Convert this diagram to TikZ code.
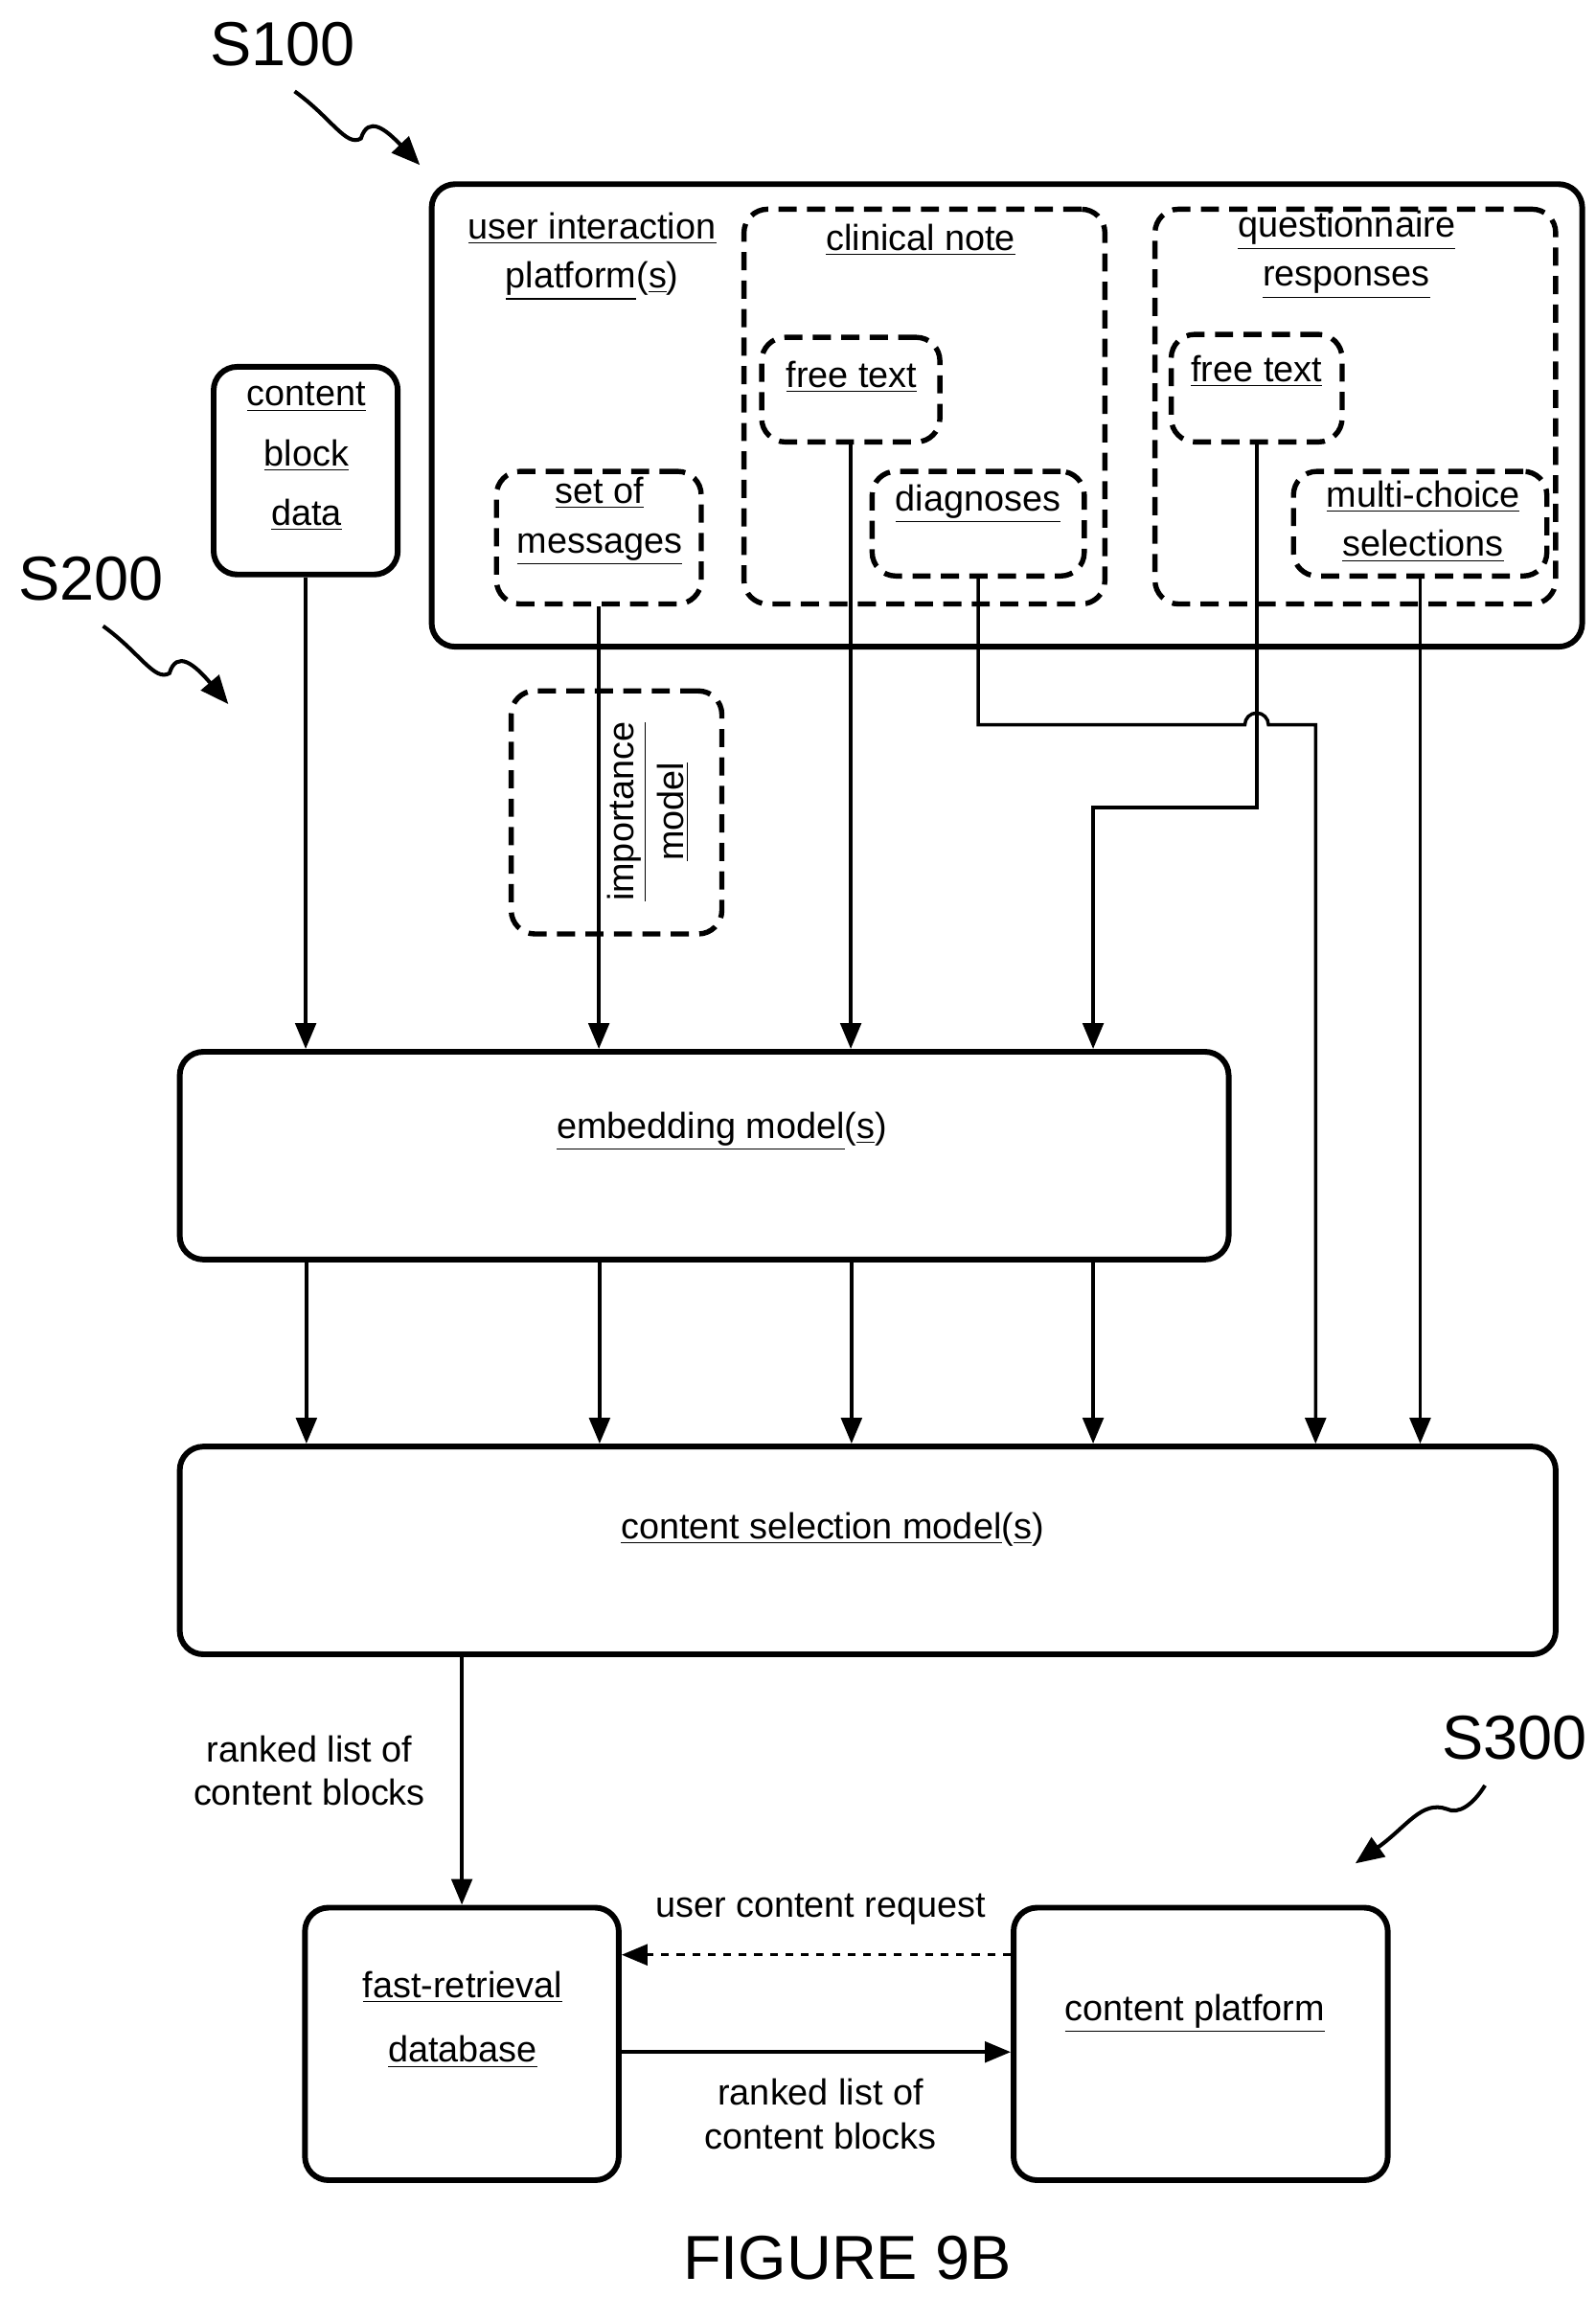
\documentclass[tikz,border=0pt]{standalone}
\usepackage{fontspec}
\setmainfont{Liberation Sans}
\usetikzlibrary{arrows.meta}
\newcommand\ul[1]{\underline{#1}}
\begin{document}
\begin{tikzpicture}[x=0.02cm,y=-0.02cm,
  box/.style={draw,line width=2.2pt,rounded corners=0.32cm,inner sep=0pt},
  dbox/.style={draw,line width=2pt,rounded corners=0.32cm,inner sep=0pt,dash pattern=on 7pt off 4pt},
  txt/.style={inner sep=0pt,font=\fontsize{14}{17}\selectfont,align=center},
  big/.style={inner sep=0pt,font=\fontsize{24}{28}\selectfont},
  arr/.style={line width=1.3pt,-{Triangle[length=10pt,width=8pt]}},
  sq/.style={line width=1.5pt,-{Triangle[length=11pt,width=9pt]}}]
\useasboundingbox (0,0) rectangle (1083,1560);
% boxes
\node[box,minimum width={781*0.02cm},minimum height={314*0.02cm}] (outer) at (683.5,282) {};
\node[dbox,minimum width={245*0.02cm},minimum height={268*0.02cm}] (clin) at (627.5,276) {};
\node[dbox,minimum width={121*0.02cm},minimum height={71*0.02cm}] (ft1) at (577.5,264.5) {};
\node[dbox,minimum width={144*0.02cm},minimum height={71*0.02cm}] (diag) at (664,355.5) {};
\node[dbox,minimum width={139*0.02cm},minimum height={90*0.02cm}] (msgs) at (406.5,365) {};
\node[dbox,minimum width={272*0.02cm},minimum height={268*0.02cm}] (quest) at (920,276) {};
\node[dbox,minimum width={116*0.02cm},minimum height={73*0.02cm}] (ft2) at (853,263.5) {};
\node[dbox,minimum width={172*0.02cm},minimum height={71*0.02cm}] (multi) at (964,355.5) {};
\node[box,minimum width={125*0.02cm},minimum height={141*0.02cm}] (cbd) at (207.5,319.5) {};
\node[dbox,minimum width={143*0.02cm},minimum height={165*0.02cm}] (imp) at (418.5,551.5) {};
\node[box,minimum width={712*0.02cm},minimum height={141*0.02cm}] (emb) at (478,784.5) {};
\node[box,minimum width={934*0.02cm},minimum height={141*0.02cm}] (csel) at (589,1052.5) {};
\node[box,minimum width={213*0.02cm},minimum height={185*0.02cm}] (frdb) at (313.5,1387.5) {};
\node[box,minimum width={254*0.02cm},minimum height={185*0.02cm}] (cplat) at (815,1387.5) {};
% texts
\node[txt] (t-uip) at (402,174) {\ul{user interaction}\\[2pt]\ul{platform}(\ul{s})};
\node[txt] (t-cn) at (625,163) {\ul{clinical note}};
\node[txt] (t-ft1) at (578,256) {\ul{free text}};
\node[txt] (t-diag) at (664,342) {\ul{diagnoses}};
\node[txt] (t-msg) at (407,354) {\ul{set of}\\[2pt]\ul{messages}};
\node[txt] (t-q) at (914,173) {\ul{questionnaire}\\[2pt]\ul{responses}};
\node[txt] (t-ft2) at (853,252) {\ul{free text}};
\node[txt] (t-mc) at (966,354) {\ul{multi-choice}\\[2pt]\ul{selections}};
\node[txt] (t-cbd) at (208,310) {\ul{content}\\[6pt]\ul{block}\\[6pt]\ul{data}};
\node[txt,rotate=90] (t-imp) at (440,551) {\ul{importance}\\[2pt]\ul{model}};
\node[txt] (t-emb) at (490,768) {\ul{embedding model}(\ul{s})};
\node[txt] (t-cs) at (565,1038) {\ul{content selection model}(\ul{s})};
\node[txt] (t-fr) at (314,1371) {\ul{fast-retrieval}\\[8pt]\ul{database}};
\node[txt] (t-cp) at (811,1367) {\ul{content platform}};
\node[txt] (l-r1) at (210,1202) {ranked list of\\content blocks};
\node[txt] (l-ucr) at (557,1296) {user content request};
\node[txt] (l-r2) at (557,1435) {ranked list of\\content blocks};
\node[big] (s100) at (192,30) {S100};
\node[big] (s200) at (62,393) {S200};
\node[big] (s300) at (1028,1180) {S300};
\node[big] (fig) at (575,1533) {FIGURE 9B};
% squiggle arrows
\coordinate (a1) at (200,62); \coordinate (b1) at (285,112);
\coordinate (a2) at (70,425); \coordinate (b2) at (155,478);
\coordinate (a3) at (1008,1212); \coordinate (b3) at (920,1265);
\draw[sq] (a1) .. controls (225,80) and (235,100) .. (245,94) .. controls (250,78) and (262,88) .. (b1);
\draw[sq] (a2) .. controls (95,443) and (105,463) .. (115,457) .. controls (120,441) and (132,451) .. (b2);
\draw[sq] (a3) .. controls (1000,1225) and (990,1232) .. (982,1228) .. controls (965,1222) and (955,1240) .. (b3);
% connectors
\draw[arr] (cbd.south) -- (cbd.south |- emb.north);
\draw[arr] (msgs.south) -- (msgs.south |- emb.north);
\draw[arr] (ft1.south) -- (ft1.south |- emb.north);
\coordinate (qa) at (742,548);
\draw[arr] (ft2.south) |- (qa) -- (qa |- emb.north);
\coordinate (da) at (893,492);
\draw[arr] (diag.south) |- (845,492) arc[start angle=180,end angle=0,radius=0.16cm] -- (da) -- (da |- csel.north);
\draw[arr] (multi.south) -- (multi.south |- csel.north);
\foreach \xx in {208,407,578,742}
  \draw[arr] (\xx,857) -- (\xx,980);
\draw[arr] (csel.south -| frdb.north) -- (frdb.north);
\coordinate (ucr) at (686,1327);
\draw[arr,dashed] (ucr) -- (ucr -| frdb.east);
\coordinate (rl) at (422,1393);
\draw[arr] (rl) -- (rl -| cplat.west);
\end{tikzpicture}
\end{document}
